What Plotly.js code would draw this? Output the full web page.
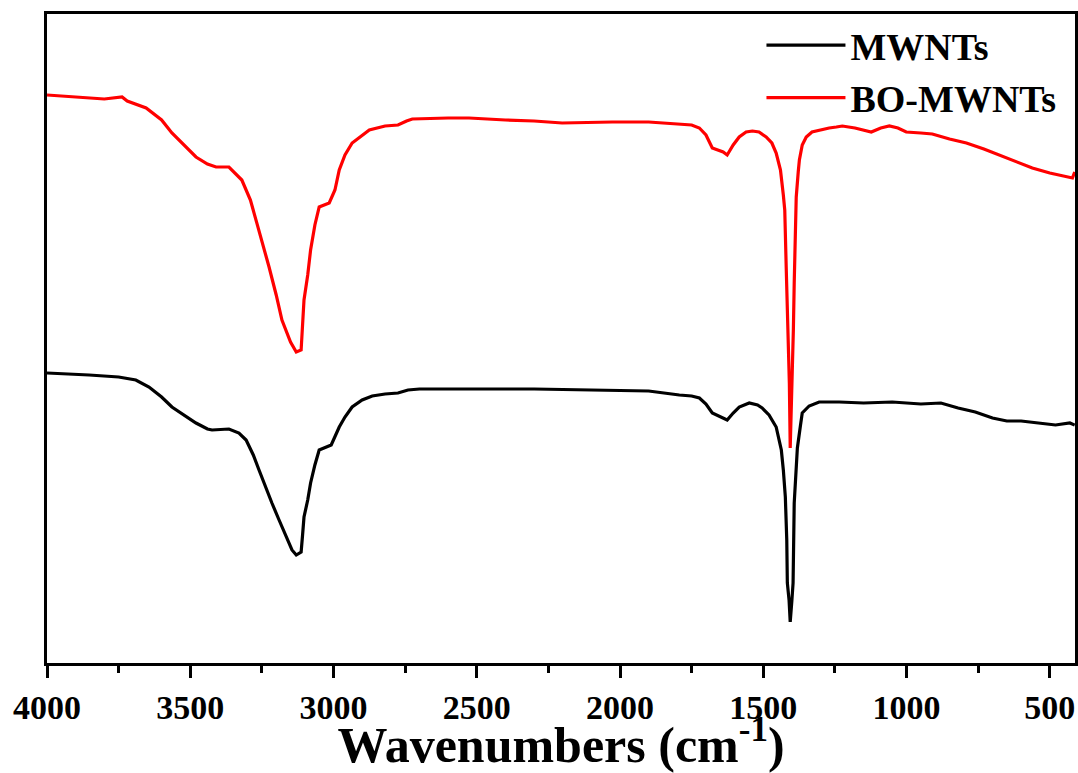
<!DOCTYPE html>
<html>
<head>
<meta charset="utf-8">
<script src="https://cdn.plot.ly/plotly-3.0.1.min.js"></script>
<style>html,body{margin:0;padding:0;background:#fff;}#chart{width:1078px;height:773px;}</style>
</head>
<body>
<div id="chart"></div>
<script>
// FTIR spectra (wavenumber in cm^-1, transmittance in arbitrary units, curves offset)
const wnMWNT = [4000,3900,3853,3750,3690,3644,3600,3564,3520,3480,3440,3424,3365,3330,3305,3280,3260,3240,3215,3190,3166,3145,3130,3113,3108,3103,3090,3080,3065,3050,3008,2995,2980,2960,2935,2900,2865,2820,2775,2740,2700,2500,2300,2100,1900,1793,1750,1723,1700,1678,1650,1626,1605,1584,1549,1520,1504,1480,1455,1437,1430,1423,1418,1416,1410,1406,1400,1396,1392,1386,1381,1370,1364,1340,1305,1235,1150,1050,1000,950,880,820,760,700,650,600,540,480,430,413];
const tMWNT = [290,289,288,286,283,276,266,256,248,240,234,233,234,230,223,208,193,178,160,143,126,113,108,111,128,146,163,180,198,213,218,226,236,246,256,263,267,269,270,273,274,274,274,273,272,268,267,265,259,250,246,243,250,256,260,258,255,248,236,213,193,166,123,80,63,41,63,80,160,188,215,238,250,257,261,261,260,261,260,259,260,255,251,245,242,242,240,238,240,238];

const wnBO = [4000,3900,3800,3738,3720,3654,3600,3564,3520,3480,3440,3410,3365,3320,3290,3270,3245,3225,3200,3180,3150,3130,3113,3108,3103,3090,3080,3065,3050,3015,2995,2980,2960,2935,2900,2875,2820,2775,2745,2725,2600,2527,2400,2300,2202,2100,2027,1900,1793,1750,1723,1700,1678,1660,1640,1626,1605,1584,1560,1538,1515,1490,1470,1455,1440,1430,1425,1420,1414,1409,1406,1400,1395,1392,1388,1385,1378,1374,1364,1350,1330,1305,1270,1245,1224,1180,1123,1090,1060,1030,1001,950,910,850,791,730,676,620,561,500,440,421,413];
const tBO = [568,566,564,566,562,555,543,530,518,506,499,496,496,483,463,443,418,396,368,343,321,311,313,333,363,388,413,438,456,460,473,493,508,520,528,533,537,538,542,544,545,545,543,542,540,541,541,541,539,538,535,528,515,513,511,508,518,526,531,532,531,526,520,510,493,468,453,396,333,280,215,273,333,380,433,466,491,503,518,526,531,533,535,536,537,535,531,535,537,535,531,530,529,524,520,514,508,501,495,490,486,485,491];

const seriesNames = ['MWNTs', 'BO-MWNTs'];
const seriesColors = ['#000000', '#ff0000'];
const xTickVals = [4000,3500,3000,2500,2000,1500,1000,500];

const fontFam = 'Liberation Serif, Times New Roman, serif';

const traces = [
  {x: wnMWNT, y: tMWNT, name: seriesNames[0], type: 'scatter', mode: 'lines',
   line: {color: seriesColors[0], width: 3.2}},
  {x: wnBO, y: tBO, name: seriesNames[1], type: 'scatter', mode: 'lines',
   line: {color: seriesColors[1], width: 3.2}}
];

const layout = {
  width: 1078, height: 773,
  margin: {l: 47, r: 3, t: 14, b: 110},
  paper_bgcolor: '#ffffff', plot_bgcolor: '#ffffff',
  showlegend: true,
  legend: {
    x: 0.695, y: 1.0, xanchor: 'left', yanchor: 'top',
    bgcolor: 'rgba(0,0,0,0)', borderwidth: 0,
    font: {family: fontFam, size: 38, color: '#000', weight: 'bold'},
    itemwidth: 79, tracegroupgap: 0
  },
  xaxis: {
    range: [4000, 412],
    tickvals: xTickVals,
    ticktext: xTickVals.map(String),
    ticks: 'outside', ticklen: 12, tickwidth: 3, tickcolor: '#000',
    minor: {dtick: 250, ticks: 'outside', ticklen: 7, tickwidth: 3, tickcolor: '#000', showgrid: false},
    showline: true, linewidth: 3, linecolor: '#000', mirror: true,
    showgrid: false, zeroline: false,
    tickfont: {family: fontFam, size: 34, color: '#000', weight: 'bold'},
    title: {text: 'Wavenumbers (cm<sup>-1</sup>)', standoff: 5,
            font: {family: fontFam, size: 50, color: '#000', weight: 'bold'}}
  },
  yaxis: {
    range: [0, 649],
    showticklabels: false, ticks: '',
    showline: true, linewidth: 3, linecolor: '#000', mirror: true,
    showgrid: false, zeroline: false
  }
};

Plotly.newPlot('chart', traces, layout, {displayModeBar: false, staticPlot: true});
</script>
</body>
</html>
